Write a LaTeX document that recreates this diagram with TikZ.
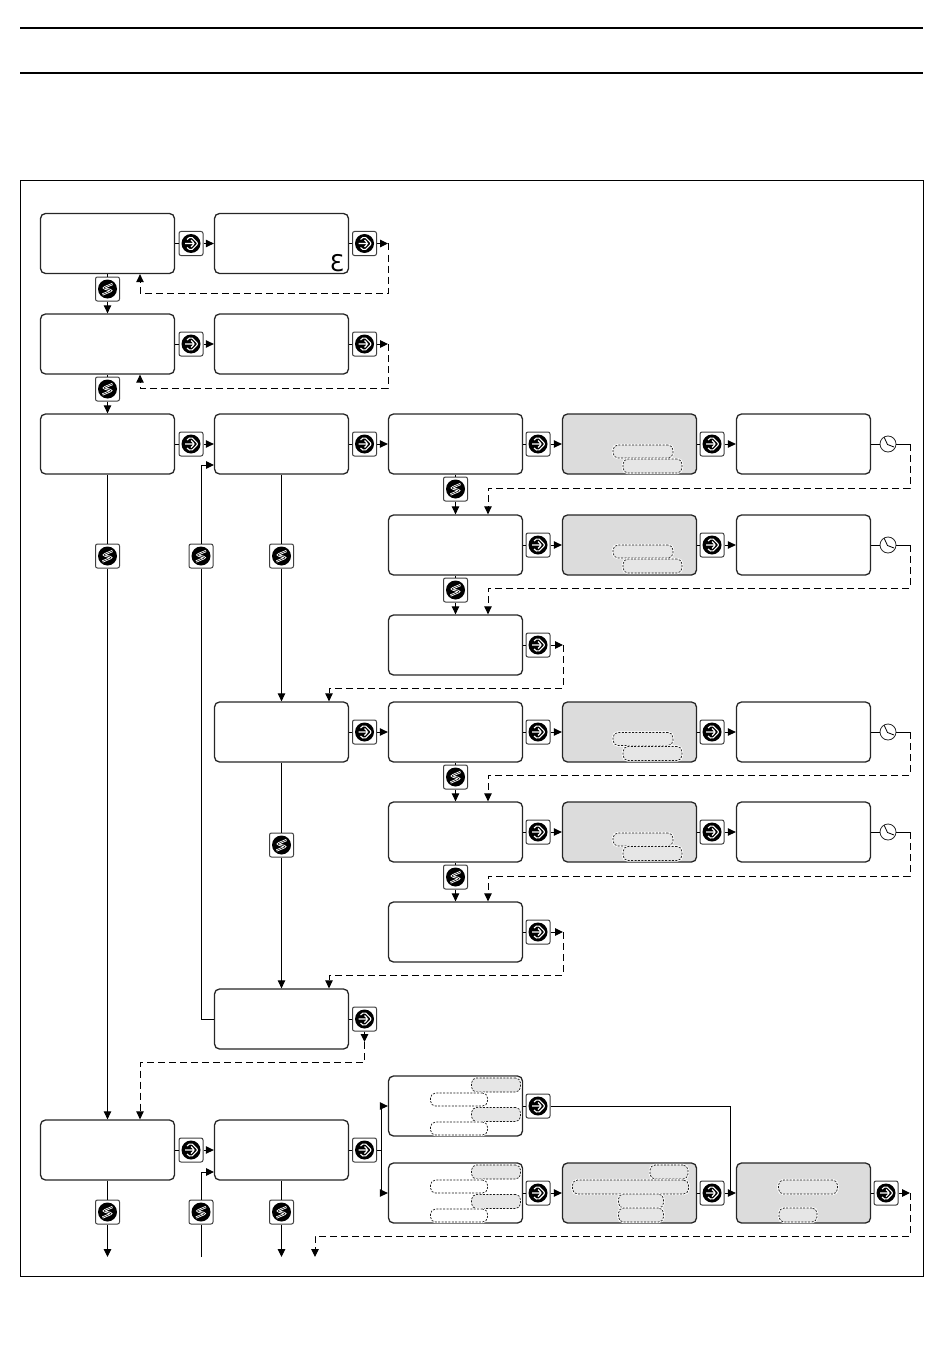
\documentclass[tikz,border=0pt]{standalone}
\usepackage{fontspec}
\newfontfamily\dejavu{DejaVu Sans}
\usetikzlibrary{arrows.meta}
\definecolor{lcdgray}{HTML}{DCDCDC}
\definecolor{pillgray}{HTML}{E6E6E6}
\tikzset{
  lcd/.style={draw=black!85,line width=1.3pt,rounded corners=5pt,minimum width=134pt,minimum height=60pt,inner sep=0pt,fill=white},
  lcdshade/.style={lcd,fill=lcdgray},
  pill/.style={draw=black!90,line width=.7pt,dash pattern=on 2pt off 1.4pt,rounded corners=5pt,inner sep=0pt,fill=white,preaction={draw=white,solid,line width=2.4pt}},
  pillshade/.style={pill,fill=pillgray},
  keybox/.style={draw=black!75,line width=1pt,fill=white,rounded corners=2pt,minimum size=24pt,inner sep=0pt},
  enterkey/.style={keybox,path picture={
    \fill[black] (path picture bounding box.center) circle (9.5);
    \draw[white,line width=1.1pt,shift={(path picture bounding box.center)}]
      (-4,-4) -- (0,-7.2) -- (7.2,0) -- (0,7.2) -- (-4,4) (-6,0) -- (3.5,0) (0,-3.5) -- (3.5,0) -- (0,3.5);
  }},
  stepkey/.style={keybox,path picture={
    \fill[black] (path picture bounding box.center) circle (9.5);
    \draw[white,line width=2.2pt,shift={(path picture bounding box.center)}]
      (5,-5) -- (-4.5,-1) -- (4.5,1.5) -- (-5,5.5);
    \draw[black,line width=.5pt,shift={(path picture bounding box.center)}]
      (5,-5) -- (-4.5,-1) -- (4.5,1.5) -- (-5,5.5);
  }},
  timer/.style={draw=black!85,line width=.8pt,circle,minimum size=16pt,inner sep=0pt,fill=white,path picture={
    \draw[black,line width=.8pt,shift={(path picture bounding box.center)}]
      (-4,-7) -- (-.5,.5) -- (6,3);
  }},
  every edge/.style={draw=black,line width=1pt},
  flow/.style={-{Triangle[length=8pt,width=7.5pt]}},
  backflow/.style={draw=black,line width=1pt,dash pattern=on 7pt off 4pt,-{Triangle[length=8pt,width=7.5pt]}}
}
\begin{document}
\begin{tikzpicture}[x=1pt,y=-1pt]
  \useasboundingbox (0,0) rectangle (950,1364);
  % page rules and frame
  \draw[line width=1.3pt] (20,28) -- (923,28);
  \draw[line width=1.3pt] (20,73) -- (923,73);
  \draw[line width=1pt] (20,181) rectangle (923,1276);
  % display boxes
  \begin{scope}[every node/.style={lcd}]
  \node (a) at (107.5,243.5) {};
  \node (b) at (281.5,243.5) {};
  \node (c) at (107.5,344) {};
  \node (d) at (281.5,344) {};
  \node (e) at (107.5,444) {};
  \node (f) at (281.5,444) {};
  \node (g) at (455.5,444) {};
  \node (i) at (803.5,444) {};
  \node (j) at (455.5,545) {};
  \node (l) at (803.5,545) {};
  \node (m) at (455.5,645) {};
  \node (n) at (281.5,732) {};
  \node (o) at (455.5,732) {};
  \node (q) at (803.5,732) {};
  \node (r) at (455.5,832) {};
  \node (t) at (803.5,832) {};
  \node (u) at (455.5,932) {};
  \node (v) at (281.5,1019) {};
  \node (w) at (107.5,1150) {};
  \node (x) at (281.5,1150) {};
  \node (y) at (455.5,1106) {};
  \node (z) at (455.5,1193) {};
  \end{scope}
  \begin{scope}[every node/.style={lcdshade}]
  \node (h) at (629.5,444) {};
  \node (k) at (629.5,545) {};
  \node (p) at (629.5,732) {};
  \node (s) at (629.5,832) {};
  \node (aa) at (629.5,1193) {};
  \node (ab) at (803.5,1193) {};
  \end{scope}
  \node[anchor=center,inner sep=0pt] (glyph) at (337,263.5) {\dejavu\fontsize{23}{23}\selectfont Ɛ};
  % highlighted fields
  \begin{scope}[every node/.style={pillshade}]
  \node[minimum width=60pt,minimum height=13pt] (ph1) at (643,451.5) {};
  \node[minimum width=59pt,minimum height=14pt] (ph2) at (652.5,466) {};
  \node[minimum width=60pt,minimum height=13pt] (pk1) at (643,551.5) {};
  \node[minimum width=59pt,minimum height=14pt] (pk2) at (652.5,566) {};
  \node[minimum width=60pt,minimum height=13pt] (pp1) at (643,739) {};
  \node[minimum width=59pt,minimum height=14pt] (pp2) at (652.5,753.5) {};
  \node[minimum width=60pt,minimum height=13pt] (ps1) at (643,839.5) {};
  \node[minimum width=59pt,minimum height=14pt] (ps2) at (652.5,853.5) {};
  \node[minimum width=49pt,minimum height=14pt] (py1) at (496,1085) {};
  \node[minimum width=49pt,minimum height=14pt] (py3) at (496,1114.5) {};
  \node[minimum width=49pt,minimum height=14pt] (pz1) at (496,1172) {};
  \node[minimum width=49pt,minimum height=14pt] (pz3) at (496,1201.5) {};
  \node[minimum width=38pt,minimum height=14pt] (pa1) at (669,1172) {};
  \node[minimum width=116pt,minimum height=14pt] (pa2) at (630.5,1187) {};
  \node[minimum width=45pt,minimum height=14pt] (pa3) at (641,1201) {};
  \node[minimum width=45pt,minimum height=14pt] (pa4) at (641,1215) {};
  \node[minimum width=59pt,minimum height=14pt] (pb1) at (808,1187) {};
  \node[minimum width=38pt,minimum height=14pt] (pb2) at (798,1215) {};
  \end{scope}
  \begin{scope}[every node/.style={pill}]
  \node[minimum width=57pt,minimum height=13pt] (py2) at (459,1099.5) {};
  \node[minimum width=57pt,minimum height=13pt] (py4) at (459,1128.5) {};
  \node[minimum width=57pt,minimum height=13pt] (pz2) at (459,1186.5) {};
  \node[minimum width=57pt,minimum height=13pt] (pz4) at (459,1215.5) {};
  \end{scope}
  % enter keys
  \begin{scope}[every node/.style={enterkey}]
  \node (ka) at (191,243.5) {};
  \node (kb) at (364.5,243.5) {};
  \node (kc) at (191,344) {};
  \node (kd) at (364.5,344) {};
  \node (ke) at (191,444) {};
  \node (kf) at (364.5,444) {};
  \node (kg) at (538,444) {};
  \node (kh) at (712,444) {};
  \node (kj) at (538,545) {};
  \node (kk) at (712,545) {};
  \node (km) at (538,645) {};
  \node (kn) at (364.5,732) {};
  \node (ko) at (538,732) {};
  \node (kp) at (712,732) {};
  \node (kr) at (538,832) {};
  \node (ks) at (712,832) {};
  \node (ku) at (538,932) {};
  \node (kv) at (364.5,1019) {};
  \node (kw) at (191,1150) {};
  \node (kx) at (364.5,1150) {};
  \node (ky) at (538,1106) {};
  \node (kz) at (538,1193) {};
  \node (kaa) at (712,1193) {};
  \node (kab) at (886,1193) {};
  \end{scope}
  % step keys
  \begin{scope}[every node/.style={stepkey}]
  \node (sa) at (107.5,289) {};
  \node (sc) at (107.5,389) {};
  \node (se) at (107.5,556) {};
  \node (sv) at (201,556) {};
  \node (sf) at (281.5,556) {};
  \node (sg) at (455.5,489) {};
  \node (sj) at (455.5,590) {};
  \node (sn) at (281.5,845) {};
  \node (so) at (455.5,777) {};
  \node (sr) at (455.5,877) {};
  \node (sw) at (107.5,1212) {};
  \node (sb) at (201,1212) {};
  \node (sx) at (281.5,1212) {};
  \end{scope}
  % timers
  \begin{scope}[every node/.style={timer}]
  \node (ci) at (888,444) {};
  \node (cl) at (888,545) {};
  \node (cq) at (888,732) {};
  \node (ct) at (888,832) {};
  \end{scope}
  % loose ends and corners
  \coordinate (ub) at (388,243.5);
  \coordinate (vb) at (140,293);
  \coordinate (ud) at (388,344);
  \coordinate (vd) at (140,388);
  \coordinate (ui) at (910,444);
  \coordinate (vi) at (488,488);
  \coordinate (ul) at (910,545);
  \coordinate (vl) at (488,588);
  \coordinate (um) at (563,645);
  \coordinate (vm) at (329,688);
  \coordinate (uq) at (910,732);
  \coordinate (vq) at (488,775);
  \coordinate (ut) at (910,832);
  \coordinate (vt) at (488,876);
  \coordinate (uu) at (563,932);
  \coordinate (vu) at (329,975);
  \coordinate (uv) at (364.5,1042);
  \coordinate (vv) at (140,1062);
  \coordinate (uab) at (910,1193);
  \coordinate (vab) at (315,1236);
  \coordinate (wab) at (315,1257);
  \coordinate (jn) at (381,1150);
  \coordinate (fin) at (214,465);
  \coordinate (xin) at (214,1172);
  \coordinate (bin) at (201,1257);
  \coordinate (wout) at (107.5,1257);
  \coordinate (xout) at (281.5,1257);
  \coordinate (ab1) at (730,1193);
  % connectors
  \path (a) edge (ka);
  \path (ka) edge[flow] (b);
  \path (b) edge (kb);
  \path (kb) edge[flow] (ub);
  \path (a) edge (sa);
  \path (sa) edge[flow] (c);
  \path (c) edge (kc);
  \path (kc) edge[flow] (d);
  \path (d) edge (kd);
  \path (kd) edge[flow] (ud);
  \path (c) edge (sc);
  \path (sc) edge[flow] (e);
  \path (e) edge (ke);
  \path (ke) edge[flow] (f);
  \path (f) edge (kf);
  \path (kf) edge[flow] (g);
  \path (g) edge (kg);
  \path (kg) edge[flow] (h);
  \path (h) edge (kh);
  \path (kh) edge[flow] (i);
  \path (i) edge (ci);
  \path (ci) edge (ui);
  \path (g) edge (sg);
  \path (sg) edge[flow] (j);
  \path (j) edge (kj);
  \path (kj) edge[flow] (k);
  \path (k) edge (kk);
  \path (kk) edge[flow] (l);
  \path (l) edge (cl);
  \path (cl) edge (ul);
  \path (j) edge (sj);
  \path (sj) edge[flow] (m);
  \path (m) edge (km);
  \path (km) edge[flow] (um);
  \path (e) edge (se);
  \path (se) edge[flow] (w);
  \path (f) edge (sf);
  \path (sf) edge[flow] (n);
  \path (n) edge (kn);
  \path (kn) edge[flow] (o);
  \path (o) edge (ko);
  \path (ko) edge[flow] (p);
  \path (p) edge (kp);
  \path (kp) edge[flow] (q);
  \path (q) edge (cq);
  \path (cq) edge (uq);
  \path (o) edge (so);
  \path (so) edge[flow] (r);
  \path (r) edge (kr);
  \path (kr) edge[flow] (s);
  \path (s) edge (ks);
  \path (ks) edge[flow] (t);
  \path (t) edge (ct);
  \path (ct) edge (ut);
  \path (r) edge (sr);
  \path (sr) edge[flow] (u);
  \path (u) edge (ku);
  \path (ku) edge[flow] (uu);
  \path (n) edge (sn);
  \path (sn) edge[flow] (v);
  \path (v) edge (kv);
  \path (kv) edge[flow] (uv);
  \draw[line width=1pt] (v.west) -| (sv);
  \draw[flow,line width=1pt] (sv) |- (fin);
  % lower row
  \path (w) edge (kw);
  \path (kw) edge[flow] (x);
  \path (x) edge (kx);
  \path (kx) edge (jn);
  \draw[flow,line width=1pt] (jn) |- (y.west);
  \draw[flow,line width=1pt] (jn) |- (z.west);
  \path (y) edge (ky);
  \draw[line width=1pt] (ky) -| (ab1);
  \path (z) edge (kz);
  \path (kz) edge[flow] (aa);
  \path (aa) edge (kaa);
  \path (kaa) edge[flow] (ab);
  \path (ab) edge (kab);
  \path (kab) edge[flow] (uab);
  \path (w) edge (sw);
  \path (sw) edge[flow] (wout);
  \path (bin) edge (sb);
  \draw[flow,line width=1pt] (sb) |- (xin);
  \path (x) edge (sx);
  \path (sx) edge[flow] (xout);
  % dashed returns
  \draw[backflow] (ub) |- (vb) -- (a.south -| vb);
  \draw[backflow] (ud) |- (vd) -- (c.south -| vd);
  \draw[backflow] (ui) |- (vi) -- (j.north -| vi);
  \draw[backflow] (ul) |- (vl) -- (m.north -| vl);
  \draw[backflow] (um) |- (vm) -- (n.north -| vm);
  \draw[backflow] (uq) |- (vq) -- (r.north -| vq);
  \draw[backflow] (ut) |- (vt) -- (u.north -| vt);
  \draw[backflow] (uu) |- (vu) -- (v.north -| vu);
  \draw[backflow] (uv) |- (vv) -- (w.north -| vv);
  \draw[backflow] (uab) |- (vab) -- (wab);
\end{tikzpicture}
\end{document}
